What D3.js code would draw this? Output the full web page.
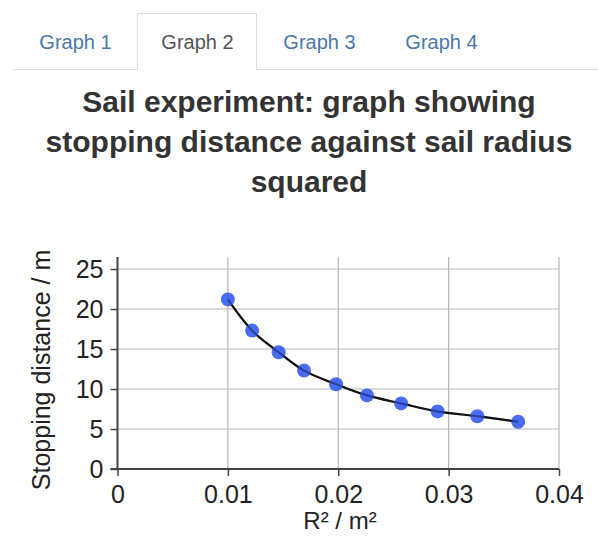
<!DOCTYPE html>
<html>
<head>
<meta charset="utf-8">
<script src="https://cdn.jsdelivr.net/npm/d3@7"></script>
<style>
  body { margin: 0; background: #fff; font-family: "Liberation Sans", Arial, sans-serif; }
  svg { display: block; }
</style>
</head>
<body>
<div id="chart"></div>
<script>
// tabs and title
var tabLabels = ['Graph 1', 'Graph 2', 'Graph 3', 'Graph 4'];
var activeTab = 1;
var titleLines = ['Sail experiment: graph showing', 'stopping distance against sail radius', 'squared'];

// sail data: R^2 (m^2) vs stopping distance (m)
var radiusSq = [0.0100, 0.0122, 0.0146, 0.0169, 0.0198, 0.0226, 0.0257, 0.0290, 0.0326, 0.0363];
var stopDist = [21.2, 17.3, 14.6, 12.3, 10.6, 9.2, 8.2, 7.2, 6.6, 5.9];

var xTicks = [0, 0.01, 0.02, 0.03, 0.04];
var yTicks = [0, 5, 10, 15, 20, 25];

var W = 598, H = 543;
var svg = d3.select('#chart').append('svg').attr('width', W).attr('height', H);

/**
 * Tabs
 */
var tabW = 120, tabX0 = 15;
svg.append('line')
  .attr('x1', 12).attr('x2', W).attr('y1', 69.5).attr('y2', 69.5)
  .attr('stroke', '#ddd').attr('stroke-width', 1);

var tabs = svg.selectAll('g.tab').data(tabLabels).enter().append('g')
  .attr('class', 'tab')
  .attr('transform', function(d, i) { return 'translate(' + (tabX0 + i * (tabW + 2)) + ',0)'; });

tabs.filter(function(d, i) { return i === activeTab; }).append('path')
  .attr('d', 'M0.5,70 V13.5 H' + (tabW - 0.5) + ' V70')
  .attr('fill', '#fff').attr('stroke', '#ddd');
tabs.filter(function(d, i) { return i === activeTab; }).append('rect')
  .attr('x', 1).attr('y', 68).attr('width', tabW - 2).attr('height', 3).attr('fill', '#fff');

tabs.append('text')
  .attr('x', tabW / 2 + 0.5).attr('y', 49)
  .attr('text-anchor', 'middle')
  .attr('font-size', 20)
  .attr('fill', function(d, i) { return i === activeTab ? '#555' : '#4a78ab'; })
  .text(function(d) { return d; });

/**
 * Title
 */
svg.append('g').selectAll('text').data(titleLines).enter().append('text')
  .attr('x', 309).attr('y', function(d, i) { return 112 + i * 40; })
  .attr('text-anchor', 'middle')
  .attr('font-size', 30).attr('font-weight', 'bold')
  .attr('fill', '#333')
  .text(function(d) { return d; });

/**
 * Plot
 */
var x = d3.scaleLinear().domain([0, 0.04]).range([117.5, 559]);
var y = d3.scaleLinear().domain([0, 25]).range([469, 269]);
var yTop = 257;

var grid = svg.append('g');
grid.selectAll('line.h').data(yTicks.filter(function(d) { return d > 0; })).enter().append('line')
  .attr('x1', x(0)).attr('x2', x(0.04))
  .attr('y1', function(d) { return y(d); }).attr('y2', function(d) { return y(d); })
  .attr('stroke', '#b5b5b5').attr('stroke-width', 1.2);
grid.selectAll('line.v').data(xTicks.filter(function(d) { return d > 0; })).enter().append('line')
  .attr('y1', yTop).attr('y2', y(0))
  .attr('x1', function(d) { return x(d); }).attr('x2', function(d) { return x(d); })
  .attr('stroke', '#b5b5b5').attr('stroke-width', 1.2);

var xAxis = svg.append('g').attr('transform', 'translate(0,' + y(0) + ')')
  .call(d3.axisBottom(x).tickValues(xTicks).tickSize(7).tickPadding(6).tickFormat(function(d) { return d === 0 ? '0' : d3.format('.2f')(d); }));
var yAxis = svg.append('g').attr('transform', 'translate(' + x(0) + ',0)')
  .call(d3.axisLeft(y).tickValues(yTicks).tickSize(7).tickPadding(7));

[xAxis, yAxis].forEach(function(a) {
  a.select('.domain').remove();
  a.selectAll('.tick line').attr('stroke', '#444').attr('stroke-width', 1.5);
  a.selectAll('.tick text').attr('font-size', 25).attr('fill', '#222')
    .attr('font-family', '"Liberation Sans", Arial, sans-serif');
});
xAxis.selectAll('.tick text').attr('dy', '0.82em');

// axis lines
svg.append('line').attr('x1', x(0)).attr('x2', x(0)).attr('y1', yTop).attr('y2', y(0))
  .attr('stroke', '#444').attr('stroke-width', 2);
svg.append('line').attr('x1', x(0) - 7).attr('x2', x(0.04)).attr('y1', y(0)).attr('y2', y(0))
  .attr('stroke', '#444').attr('stroke-width', 2);

// axis titles
svg.append('text')
  .attr('transform', 'translate(50,370) rotate(-90)')
  .attr('text-anchor', 'middle')
  .attr('font-size', 25).attr('fill', '#222')
  .text('Stopping distance / m');

svg.append('text')
  .attr('x', 340).attr('y', 529)
  .attr('text-anchor', 'middle')
  .attr('font-size', 24).attr('fill', '#222')
  .text('R² / m²');

// fitted curve
var pts = radiusSq.map(function(r, i) { return [r, stopDist[i]]; });
var line = d3.line()
  .x(function(d) { return x(d[0]); })
  .y(function(d) { return y(d[1]); })
  .curve(d3.curveCatmullRom.alpha(0.5));

svg.append('path').datum(pts)
  .attr('d', line)
  .attr('fill', 'none').attr('stroke', '#111').attr('stroke-width', 2.2);

// data points
svg.selectAll('circle.pt').data(pts).enter().append('circle')
  .attr('class', 'pt')
  .attr('cx', function(d) { return x(d[0]); })
  .attr('cy', function(d) { return y(d[1]); })
  .attr('r', 7)
  .attr('fill', '#3a5ff2')
  .attr('fill-opacity', 0.92);

// curve shows through the dots a little, like the original
svg.append('path').datum(pts)
  .attr('d', line)
  .attr('fill', 'none').attr('stroke', '#111').attr('stroke-width', 2)
  .attr('stroke-opacity', 0.35);
</script>
</body>
</html>
